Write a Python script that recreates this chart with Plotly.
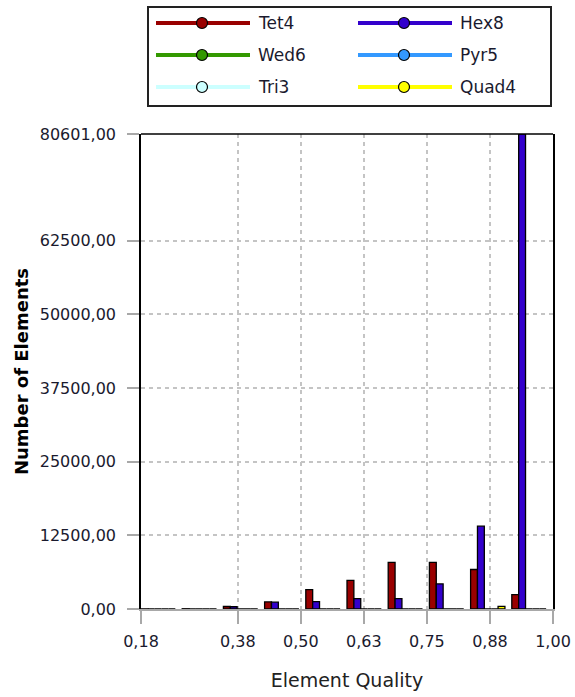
import plotly.graph_objects as go

# Mesh element-quality histogram: 10 bins between the minimum and maximum quality
quality_min = 0.183
quality_max = 1.0
n_bins = 10

series_names = ["Tet4", "Hex8", "Wed6", "Pyr5", "Tri3", "Quad4"]
series_colors = ["#990000", "#3300CC", "#339900", "#3399FF", "#CCFFFF", "#FFFF00"]

tet4 = [20, 40, 420, 1200, 3300, 4850, 7900, 7900, 6700, 2450]
hex8 = [0, 0, 380, 1150, 1250, 1750, 1750, 4250, 14050, 80601]
wed6 = [0, 0, 0, 0, 0, 0, 0, 0, 0, 0]
pyr5 = [0, 0, 0, 0, 0, 0, 0, 0, 0, 0]
tri3 = [0, 0, 0, 0, 0, 0, 0, 0, 0, 0]
quad4 = [0, 0, 0, 0, 0, 0, 0, 0, 450, 0]
series_values = [tet4, hex8, wed6, pyr5, tri3, quad4]

# position of each element type inside a bin (solid elements first, then shells)
bar_slot = {"Tet4": 0, "Hex8": 1, "Wed6": 2, "Pyr5": 3, "Quad4": 4, "Tri3": 5}

x_tick_vals = [0.183, 0.375, 0.5, 0.625, 0.75, 0.875, 1.0]
x_tick_text = ["0,18", "0,38", "0,50", "0,63", "0,75", "0,88", "1,00"]
y_tick_vals = [0, 12500, 25000, 37500, 50000, 62500, 80601]
y_tick_text = ["0,00", "12500,00", "25000,00", "37500,00", "50000,00", "62500,00", "80601,00"]
y_max = 80601

FONT = "DejaVu Sans"
TEXT = "#1a1a2e"
W, H = 575, 697
M_L, M_R, M_T, M_B = 141, 22, 134, 88

bin_w = (quality_max - quality_min) / n_bins
bin_lo = [quality_min + k * bin_w for k in range(n_bins)]
slot = bin_w / 6

fig = go.Figure()
for name, color, vals in zip(series_names, series_colors, series_values):
    has_elements = any(v > 0 for v in vals)
    fig.add_trace(go.Bar(
        x=bin_lo, y=vals, name=name,
        width=slot, offset=bar_slot[name] * slot,
        marker=dict(color=color,
                    line=dict(color="#000000", width=1.3 if has_elements or name != "Tri3" else 0)),
        showlegend=False,
    ))

# Custom legend drawn above the plot area
plot_w = W - M_L - M_R
plot_h = H - M_T - M_B


def px_x(px):
    return (px - M_L) / plot_w


def px_y(py):
    return (H - M_B - py) / plot_h


shapes = [
    # legend frame
    dict(type="rect", xref="paper", yref="paper",
         x0=px_x(148), x1=px_x(551), y0=px_y(106), y1=px_y(7),
         line=dict(color="#222222", width=2), fillcolor="rgba(0,0,0,0)"),
    # top edge of the plot frame
    dict(type="line", xref="paper", yref="paper", x0=0, x1=1, y0=1, y1=1,
         line=dict(color="#000000", width=1.5)),
]
annotations = []
col_x = [156, 358]
row_y = [23, 55, 87]
for i, (name, color) in enumerate(zip(series_names, series_colors)):
    cx = col_x[i % 2]
    cy = row_y[i // 2]
    shapes.append(dict(type="line", xref="paper", yref="paper",
                       x0=px_x(cx), x1=px_x(cx + 94), y0=px_y(cy), y1=px_y(cy),
                       line=dict(color=color, width=4)))
    shapes.append(dict(type="circle", xref="paper", yref="paper",
                       xsizemode="pixel", ysizemode="pixel",
                       xanchor=px_x(cx + 46), yanchor=px_y(cy),
                       x0=-5.5, x1=5.5, y0=-5.5, y1=5.5,
                       fillcolor=color, line=dict(color="#000000", width=1.2)))
    annotations.append(dict(text=name, xref="paper", yref="paper",
                            x=px_x(cx + 100), y=px_y(cy), xanchor="left", yanchor="middle",
                            showarrow=False, font=dict(family=FONT, size=17, color=TEXT)))

fig.update_layout(
    width=W, height=H, autosize=False,
    margin=dict(l=M_L, r=M_R, t=M_T, b=M_B),
    paper_bgcolor="white", plot_bgcolor="white",
    barmode="overlay",
    shapes=shapes, annotations=annotations,
    xaxis=dict(
        range=[quality_min, quality_max], automargin=False,
        tickvals=x_tick_vals, ticktext=x_tick_text,
        ticks="outside", ticklen=13, tickcolor="#A8A8A8", tickwidth=1.5,
        ticklabelstandoff=4,
        showline=True, linecolor="#A8A8A8", linewidth=1.5,
        showgrid=True, gridcolor="#C4C4C4", griddash="4px,4px", gridwidth=1.5,
        zeroline=False,
        tickfont=dict(family=FONT, size=16, color=TEXT),
        title=dict(text="Element Quality", standoff=24,
                   font=dict(family=FONT, size=19, color="#222222")),
    ),
    yaxis=dict(
        range=[0, y_max], automargin=False,
        tickvals=y_tick_vals, ticktext=y_tick_text,
        ticks="outside", ticklen=12, tickcolor="#A8A8A8", tickwidth=1.5,
        ticklabelstandoff=8,
        showline=True, linecolor="#000000", linewidth=1.5, mirror=True,
        showgrid=True, gridcolor="#C4C4C4", griddash="4px,4px", gridwidth=1.5,
        zeroline=False,
        tickfont=dict(family=FONT, size=16, color=TEXT),
        title=dict(text="<b>Number of Elements</b>", standoff=6,
                   font=dict(family=FONT, size=18, color="#000000")),
    ),
)

fig.write_html("out.html", config={"responsive": False})
